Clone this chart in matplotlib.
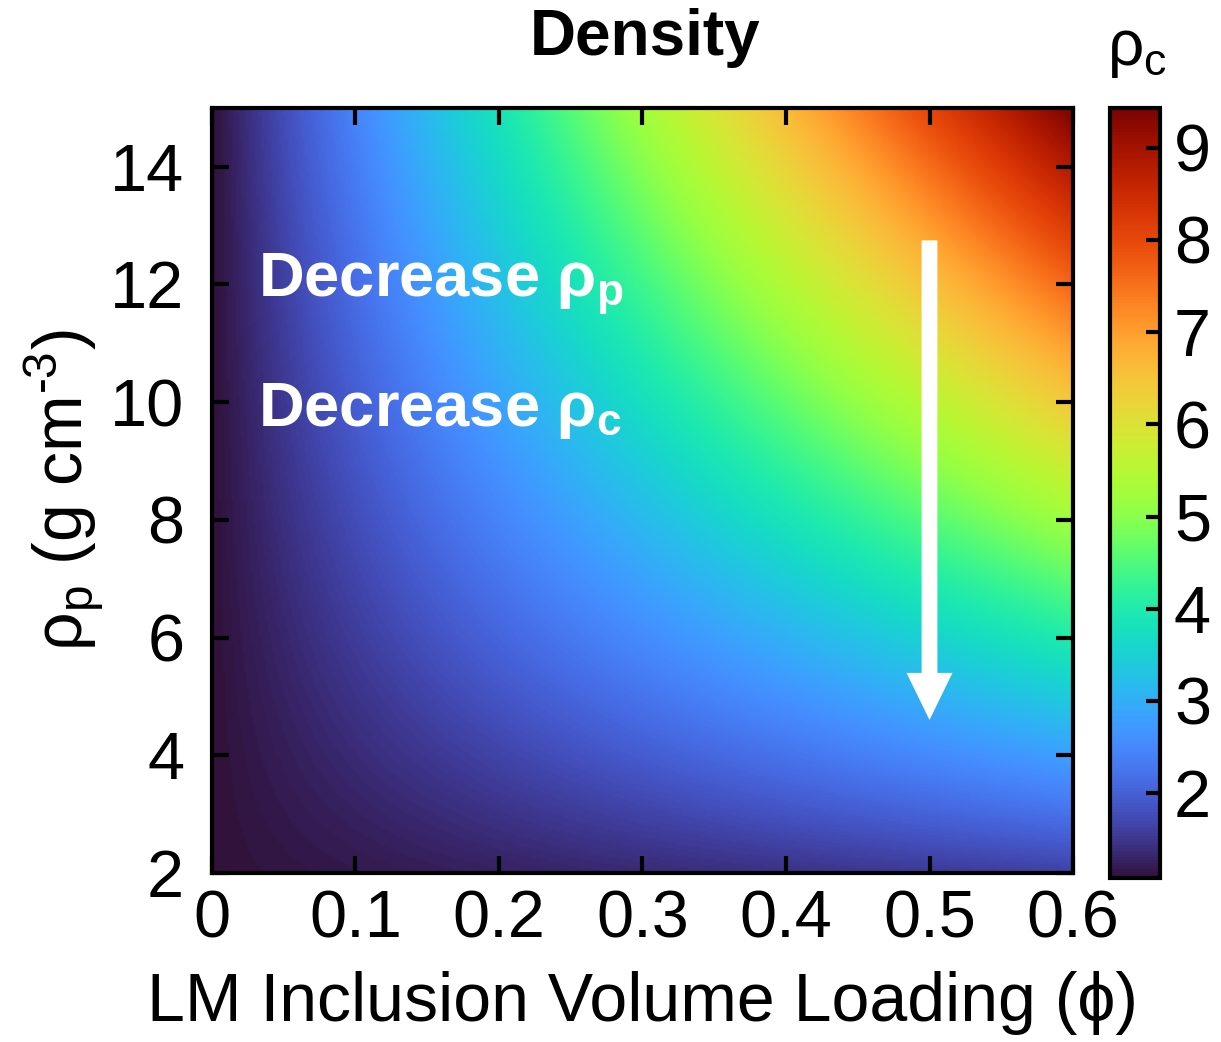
import numpy as np
import matplotlib
matplotlib.use('Agg')
import matplotlib.pyplot as plt

plt.rcParams['font.family'] = ['Liberation Sans', 'DejaVu Sans']
plt.rcParams['mathtext.fontset'] = 'custom'
plt.rcParams['mathtext.rm'] = 'Liberation Sans'
plt.rcParams['mathtext.it'] = 'Liberation Sans:italic'
plt.rcParams['mathtext.bf'] = 'Liberation Sans:bold'

# composite density from the rule of mixtures: rho_c = phi*rho_p + (1-phi)*rho_m
phi_range = [0.0, 0.6]
rho_p_range = [2.0, 15.0]
rho_matrix = 1.08
x_ticks = [0, 0.1, 0.2, 0.3, 0.4, 0.5, 0.6]
x_tick_labels = ['0', '0.1', '0.2', '0.3', '0.4', '0.5', '0.6']
y_ticks = [2, 4, 6, 8, 10, 12, 14]
cbar_ticks = [2, 3, 4, 5, 6, 7, 8, 9]

phi = np.linspace(phi_range[0], phi_range[1], 400)
rho_p = np.linspace(rho_p_range[0], rho_p_range[1], 400)
PHI, RHO_P = np.meshgrid(phi, rho_p)
rho_c = PHI * RHO_P + (1 - PHI) * rho_matrix

fig = plt.figure(figsize=(12.21, 10.42), dpi=100)
ax = fig.add_axes([0.1736, 0.1622, 0.7052, 0.7342])
cax = fig.add_axes([0.9091, 0.1574, 0.041, 0.739])

im = ax.imshow(rho_c, origin='lower', aspect='auto', cmap='turbo',
               extent=[phi_range[0], phi_range[1], rho_p_range[0], rho_p_range[1]],
               interpolation='bilinear', vmin=rho_c.min(), vmax=rho_c.max())

ax.set_xlim(phi_range)
ax.set_ylim(rho_p_range)
ax.set_xticks(x_ticks)
ax.set_xticklabels(x_tick_labels)
ax.set_yticks(y_ticks)
ax.tick_params(direction='in', length=12, width=3, labelsize=48,
               top=True, right=True)
ax.tick_params(axis='y', pad=20)
ax.tick_params(axis='x', pad=12)
for s in ax.spines.values():
    s.set_linewidth(3)

ax.set_xlabel('LM Inclusion Volume Loading (ϕ)', fontsize=49, labelpad=14)
ax.set_ylabel(r'ρ$_\mathrm{p}$ (g cm$^\text{-3}$)', fontsize=49, labelpad=3)

ax.text(0.032, 11.8, r'Decrease ρ$_\mathbf{p}$', color='white', fontsize=45.5,
        fontweight='bold', va='baseline')
ax.text(0.032, 9.59, r'Decrease ρ$_\mathbf{c}$', color='white', fontsize=45.5,
        fontweight='bold', va='baseline')

ax.arrow(0.5, 12.75, 0, -8.15, width=0.011, head_width=0.032, head_length=0.8,
         length_includes_head=True, color='white', lw=0)

cb = fig.colorbar(im, cax=cax, ticks=cbar_ticks)
cb.outline.set_linewidth(3)
cax.tick_params(direction='in', length=10, width=3, labelsize=48, pad=10)

fig.text(0.528, 0.9635, 'Density', fontsize=46, fontweight='bold',
         ha='center', va='center')
fig.text(0.931, 0.952, r'ρ$_\mathrm{c}$', fontsize=46, ha='center', va='center')

fig.savefig('out.png', dpi=100)
